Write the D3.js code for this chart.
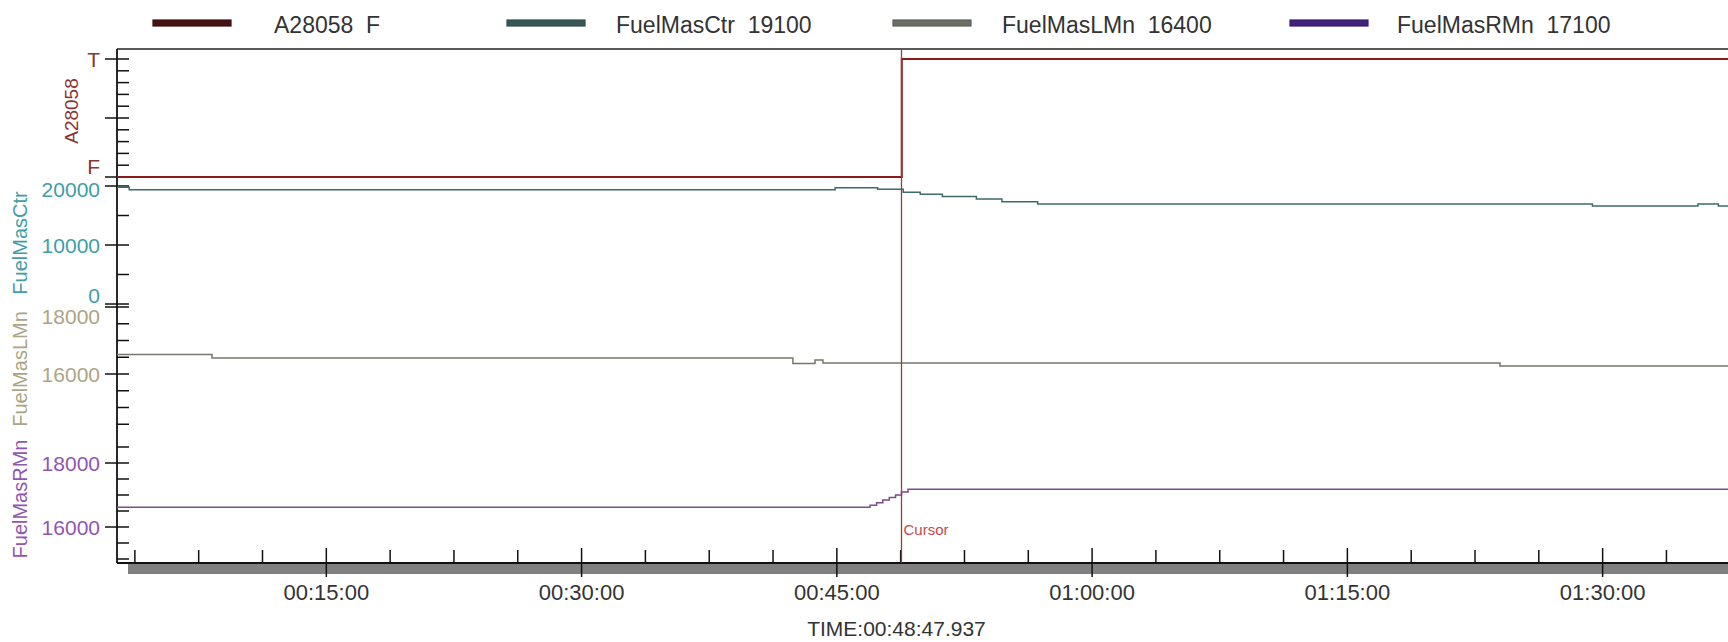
<!DOCTYPE html>
<html>
<head>
<meta charset="utf-8">
<script src="https://cdn.jsdelivr.net/npm/d3@7"></script>
<style>
  body { margin: 0; background: #fff; }
  svg { display: block; font-family: "Liberation Sans", Arial, sans-serif; }
</style>
</head>
<body>
<svg id="chart" width="1728" height="642"></svg>
<script>
// times are seconds since start of the recording
const timeDomain = [162, 5842]
const cursorTime = 2927.937
const minorTimeStep = 225
const majorTimeStep = 900

// [time, value] step samples
const a28058 = [[162, 0], [2929, 1]]
const fuelMasCtr = [[162, 19800], [205, 19350], [2694, 19700], [2844, 19450], [2934, 18950], [2994, 18600],
  [3072, 18200], [3192, 17800], [3282, 17350], [3408, 16950], [5364, 16600], [5736, 16950], [5808, 16600]]
const fuelMasLMn = [[162, 16580], [497, 16480], [2545, 16310], [2623, 16420], [2651, 16330], [5038, 16240]]
const fuelMasRMn = [[162, 16620], [2817, 16680], [2840, 16760], [2862, 16840], [2885, 16920], [2907, 17000],
  [2928, 17090], [2951, 17180]]

const legendNames = ["A28058", "FuelMasCtr", "FuelMasLMn", "FuelMasRMn"]
const legendValues = ["F", "19100", "16400", "17100"]

const a28058Ticks = d3.range(0, 11).map(d => d / 10)
const a28058Labels = [[0, "F"], [1, "T"]]
const ctrTicks = [0, 5000, 10000, 15000, 20000]
const ctrLabels = [[0, "0"], [10000, "10000"], [20000, "20000"]]
const lmnTicks = [14500, 15000, 15500, 16000, 16500, 17000, 17500, 18000]
const lmnLabels = [[16000, "16000"], [18000, "18000"]]
const rmnTicks = [15000, 15500, 16000, 16500, 17000, 17500, 18000, 18500]
const rmnLabels = [[16000, "16000"], [18000, "18000"]]

const W = 1728, H = 642
const plotLeft = 117, plotTop = 49, plotBottom = 563

const panels = [
  {name: legendNames[0], data: a28058, domain: [0, 1], range: [177, 59], box: [49, 177],
   ticks: a28058Ticks, majors: [0, 0.5, 1], labels: a28058Labels,
   line: "#8b1a1a", width: 2, text: "#8a3434", swatch: "#3d0f10", titleX: 78, titleY: 111, titleSize: 19},
  {name: legendNames[1], data: fuelMasCtr, domain: [0, 20000], range: [304, 186], box: [180, 306],
   ticks: ctrTicks, majors: [0, 10000, 20000], labels: ctrLabels,
   line: "#3e6a6a", width: 1.5, text: "#3f9ea6", swatch: "#2f4c4c", titleX: 27, titleY: 243, titleSize: 20},
  {name: legendNames[2], data: fuelMasLMn, domain: [16000, 18000], range: [374, 307], box: [307, 430],
   ticks: lmnTicks, majors: [16000, 18000], labels: lmnLabels,
   line: "#76786c", width: 1.5, text: "#aca585", swatch: "#5d6057", titleX: 27, titleY: 369, titleSize: 20},
  {name: legendNames[3], data: fuelMasRMn, domain: [16000, 18000], range: [527, 463], box: [430, 563],
   ticks: rmnTicks, majors: [16000, 18000], labels: rmnLabels,
   line: "#7d4a8c", width: 1.5, text: "#9155b2", swatch: "#3a1c6c", titleX: 27, titleY: 499, titleSize: 20}
]

const svg = d3.select("#chart")
const x = d3.scaleLinear().domain(timeDomain).range([plotLeft, W])
const fmtTime = s => d3.utcFormat("%H:%M:%S")(new Date(s * 1000))

svg.append("clipPath").attr("id", "plot")
  .append("rect").attr("x", plotLeft).attr("y", plotTop).attr("width", W - plotLeft).attr("height", plotBottom - plotTop)

// legend
const legendSwatchX = [153, 507, 893, 1290]
const legendTextX = [274, 616, 1002, 1397]
const legend = svg.append("g")
panels.forEach((p, i) => {
  legend.append("rect")
    .attr("x", legendSwatchX[i]).attr("y", 20).attr("width", 78).attr("height", 6)
    .attr("fill", d3.color(p.swatch).brighter(0.4)).attr("stroke", p.swatch).attr("stroke-width", 1.2)
  legend.append("text")
    .attr("x", legendTextX[i]).attr("y", 33)
    .attr("font-size", 23).attr("fill", "#333")
    .attr("xml:space", "preserve")
    .text(legendNames[i] + "  " + legendValues[i])
})

// frame
svg.append("line").attr("x1", plotLeft).attr("x2", W).attr("y1", plotTop).attr("y2", plotTop)
  .attr("stroke", "#222").attr("stroke-width", 1.5)
svg.append("line").attr("x1", plotLeft).attr("x2", plotLeft).attr("y1", plotTop).attr("y2", plotBottom)
  .attr("stroke", "#111").attr("stroke-width", 1.8)

// panels: ticks, labels, titles, lines
panels.forEach(p => {
  const y = d3.scaleLinear().domain(p.domain).range(p.range)
  const g = svg.append("g")

  g.selectAll("line.tick").data(p.ticks).join("line")
    .attr("x1", d => p.majors.includes(d) ? plotLeft - 12 : plotLeft)
    .attr("x2", plotLeft + 12)
    .attr("y1", d => y(d)).attr("y2", d => y(d))
    .attr("stroke", "#111").attr("stroke-width", 1.5)

  // labels on a panel edge are pushed inside the panel
  g.selectAll("text.lab").data(p.labels).join("text")
    .attr("x", 100)
    .attr("y", d => Math.max(p.box[0] + 9, Math.min(p.box[1] - 11, y(d[0]))))
    .attr("dy", "0.36em")
    .attr("text-anchor", "end")
    .attr("font-size", 21)
    .attr("fill", p.text)
    .text(d => d[1])

  g.append("text")
    .attr("transform", `translate(${p.titleX},${p.titleY}) rotate(-90)`)
    .attr("text-anchor", "middle")
    .attr("font-size", p.titleSize)
    .attr("fill", p.text)
    .text(p.name)

  const pts = p.data.concat([[timeDomain[1], p.data[p.data.length - 1][1]]])
  svg.append("path")
    .attr("clip-path", "url(#plot)")
    .attr("d", d3.line().x(d => x(d[0])).y(d => y(d[1])).curve(d3.curveStepAfter)(pts))
    .attr("fill", "none")
    .attr("stroke", p.line)
    .attr("stroke-width", p.width)
})

// time axis
const minorTicks = d3.range(minorTimeStep, timeDomain[1], minorTimeStep).filter(t => t % majorTimeStep !== 0)
const majorTicks = d3.range(majorTimeStep, timeDomain[1], majorTimeStep)

svg.append("rect").attr("x", 128).attr("y", plotBottom).attr("width", W - 128).attr("height", 11)
  .attr("fill", "#808080")
svg.append("line").attr("x1", plotLeft).attr("x2", W).attr("y1", plotBottom).attr("y2", plotBottom)
  .attr("stroke", "#111").attr("stroke-width", 2)

svg.append("g").selectAll("line").data(minorTicks).join("line")
  .attr("x1", d => x(d)).attr("x2", d => x(d))
  .attr("y1", plotBottom - 13).attr("y2", plotBottom)
  .attr("stroke", "#111").attr("stroke-width", 1.5)

const major = svg.append("g").selectAll("g").data(majorTicks).join("g")
  .attr("transform", d => `translate(${x(d)},0)`)
major.append("line").attr("y1", plotBottom - 15).attr("y2", plotBottom + 14)
  .attr("stroke", "#111").attr("stroke-width", 1.5)
major.append("text").attr("y", 600).attr("text-anchor", "middle")
  .attr("font-size", 22).attr("fill", "#333").text(fmtTime)

// cursor
const cx = x(cursorTime)
svg.append("line").attr("x1", cx).attr("x2", cx).attr("y1", plotTop).attr("y2", plotBottom)
  .attr("stroke", "#a03a3a").attr("stroke-width", 1.3)
svg.append("text").attr("x", cx + 2).attr("y", 535)
  .attr("font-size", 15).attr("fill", "#c84848").text("Cursor")

const ms = d3.format("03d")(Math.round((cursorTime % 1) * 1000))
svg.append("text").attr("x", cx - 5).attr("y", 636).attr("text-anchor", "middle")
  .attr("font-size", 21).attr("fill", "#333")
  .text("TIME:" + fmtTime(Math.floor(cursorTime)) + "." + ms)
</script>
</body>
</html>
